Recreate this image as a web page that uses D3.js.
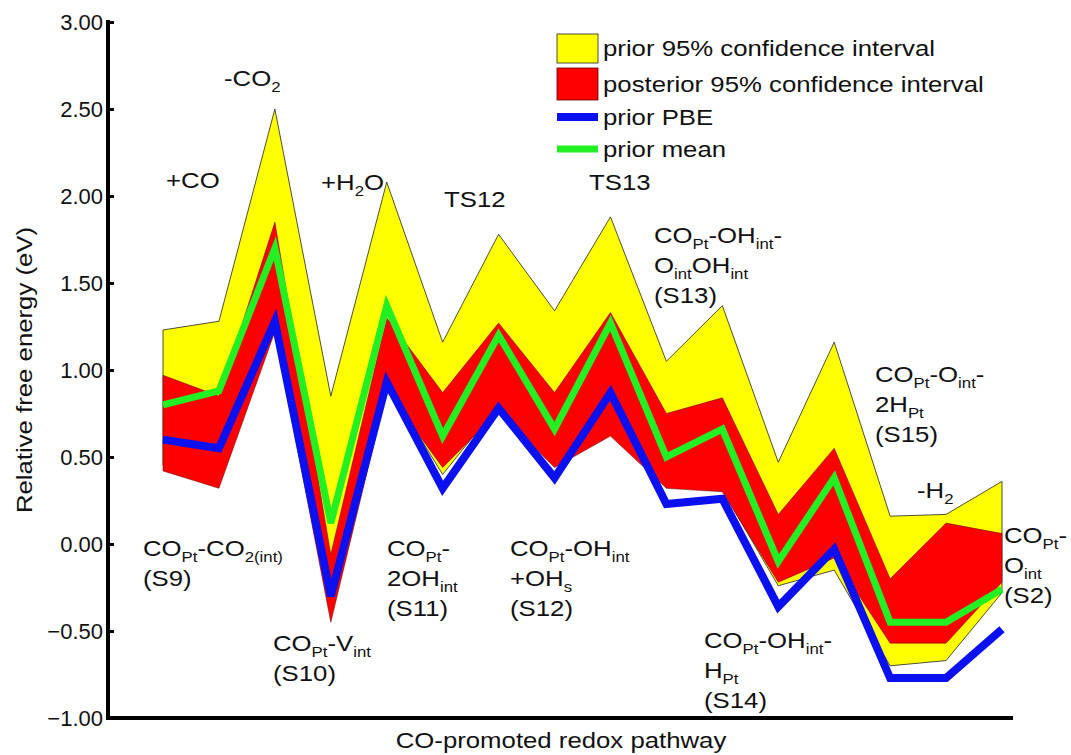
<!DOCTYPE html>
<html>
<head>
<meta charset="utf-8">
<script src="https://cdn.jsdelivr.net/npm/d3@7"></script>
<style>
  html, body { margin: 0; padding: 0; background: #fff; }
  svg { display: block; }
  text { font-family: "Liberation Sans", Arial, sans-serif; fill: #111; }
</style>
</head>
<body>
<svg id="chart" width="1071" height="755"></svg>
<script>
// Steps along the CO-promoted redox pathway (intermediates and transition states)
const steps = d3.range(16);

// Relative free energies (eV) at each step
const priorUpper     = [1.23, 1.28, 2.50,  0.85, 2.08, 1.16, 1.78, 1.34, 1.88, 1.05, 1.37,  0.47,  1.16,  0.16,  0.17,  0.36];
const priorLower     = [0.45, 0.38, 1.25, -0.30, 0.92, 0.40, 0.80, 0.46, 0.68, 0.33, 0.31, -0.24, -0.15, -0.70, -0.67, -0.28];
const posteriorUpper = [0.97, 0.85, 1.85, -0.06, 1.30, 0.87, 1.27, 0.87, 1.33, 0.75, 0.84,  0.17,  0.55, -0.20,  0.12,  0.06];
const posteriorLower = [0.42, 0.32, 1.22, -0.45, 0.88, 0.44, 0.76, 0.44, 0.62, 0.32, 0.30, -0.22, -0.08, -0.57, -0.57, -0.22];
const priorPBE       = [0.60, 0.55, 1.28, -0.30, 0.93, 0.32, 0.78, 0.38, 0.87, 0.23, 0.26, -0.36, -0.03, -0.77, -0.77, -0.49];
const priorMean      = [0.80, 0.88, 1.70,  0.12, 1.37, 0.62, 1.20, 0.66, 1.27, 0.50, 0.66, -0.10,  0.38, -0.45, -0.45, -0.26];

const yTicks = [-1.0, -0.5, 0.0, 0.5, 1.0, 1.5, 2.0, 2.5, 3.0];

const legendLabels = ["prior 95% confidence interval", "posterior 95% confidence interval", "prior PBE", "prior mean"];

// Step annotations: each line is a list of [text, isSubscript] pieces
const annotations = [
  { lines: [[["+CO", 0]]] },
  { lines: [[["-CO", 0], ["2", 1]]] },
  { lines: [[["+H", 0], ["2", 1], ["O", 0]]] },
  { lines: [[["TS12", 0]]] },
  { lines: [[["TS13", 0]]] },
  { lines: [[["CO", 0], ["Pt", 1], ["-OH", 0], ["int", 1], ["-", 0]], [["O", 0], ["int", 1], ["OH", 0], ["int", 1]], [["(S13)", 0]]] },
  { lines: [[["CO", 0], ["Pt", 1], ["-O", 0], ["int", 1], ["-", 0]], [["2H", 0], ["Pt", 1]], [["(S15)", 0]]] },
  { lines: [[["-H", 0], ["2", 1]]] },
  { lines: [[["CO", 0], ["Pt", 1], ["-", 0]], [["O", 0], ["int", 1]], [["(S2)", 0]]] },
  { lines: [[["CO", 0], ["Pt", 1], ["-CO", 0], ["2(int)", 1]], [["(S9)", 0]]] },
  { lines: [[["CO", 0], ["Pt", 1], ["-V", 0], ["int", 1]], [["(S10)", 0]]] },
  { lines: [[["CO", 0], ["Pt", 1], ["-", 0]], [["2OH", 0], ["int", 1]], [["(S11)", 0]]] },
  { lines: [[["CO", 0], ["Pt", 1], ["-OH", 0], ["int", 1]], [["+OH", 0], ["s", 1]], [["(S12)", 0]]] },
  { lines: [[["CO", 0], ["Pt", 1], ["-OH", 0], ["int", 1], ["-", 0]], [["H", 0], ["Pt", 1]], [["(S14)", 0]]] }
];
// Where each annotation block starts (left x, first baseline y)
const annotationLayout = [
  [166, 188], [224, 86], [321, 190], [444, 207], [589, 190],
  [654, 243], [875, 382], [917, 498], [1004, 543],
  [143, 556], [273, 651], [387, 556], [510, 556], [704, 648]
];

const FONT = 23;       // main label size
const SUB = 15;        // subscript size
const WIDEN = 1.12;    // horizontal widening of the lettering

const svg = d3.select("#chart");
const margin = { left: 108, top: 22, bottom: 718, right: 1013 };

const x = d3.scaleLinear().domain([0, 15]).range([163, 1002]);
const y = d3.scaleLinear().domain([-1, 3]).range([margin.bottom, margin.top]);

const band = (lo, hi) => d3.area()
  .x((d, i) => x(steps[i]))
  .y0((d, i) => y(lo[i]))
  .y1((d, i) => y(hi[i]));
const line = vals => d3.line()
  .x((d, i) => x(steps[i]))
  .y((d, i) => y(vals[i]));

// confidence bands
svg.append("path").datum(steps)
  .attr("d", band(priorLower, priorUpper))
  .attr("fill", "#ffff00").attr("stroke", "#222").attr("stroke-width", 0.8);
svg.append("path").datum(steps)
  .attr("d", band(posteriorLower, posteriorUpper))
  .attr("fill", "#ff0000").attr("stroke", "#5a0000").attr("stroke-width", 0.5);

// energy profiles
svg.append("path").datum(steps)
  .attr("d", line(priorPBE))
  .attr("fill", "none").attr("stroke", "#0a10f0").attr("stroke-width", 8)
  .attr("stroke-linejoin", "miter").attr("stroke-miterlimit", 4);
svg.append("path").datum(steps)
  .attr("d", line(priorMean))
  .attr("fill", "none").attr("stroke", "#22f022").attr("stroke-width", 7)
  .attr("stroke-linejoin", "miter").attr("stroke-miterlimit", 4);

// y axis
const yAxis = d3.axisLeft(y).tickValues(yTicks).tickFormat(d3.format(".2f")).tickSize(-6).tickPadding(5);
const gy = svg.append("g").attr("transform", `translate(${margin.left},0)`).call(yAxis);
gy.select(".domain").remove();
gy.selectAll(".tick line").attr("stroke", "#000").attr("stroke-width", 3);
gy.selectAll(".tick text").attr("font-size", 22).attr("fill", "#111")
  .attr("font-family", "Liberation Sans, Arial, sans-serif");

// axis frame lines
svg.append("path")
  .attr("d", `M${margin.left},${margin.top - 2}V${margin.bottom}H${margin.right}`)
  .attr("fill", "none").attr("stroke", "#000").attr("stroke-width", 4);

// text placed at (tx, ty), widened along its own direction
function label(tx, ty, rotate, anchor) {
  const g = svg.append("g")
    .attr("transform", `translate(${tx},${ty})${rotate ? " rotate(" + rotate + ")" : ""} scale(${WIDEN},1)`);
  return g.append("text").attr("x", 0).attr("y", 0)
    .attr("text-anchor", anchor || "start").attr("font-size", FONT);
}

// axis titles
label(32, (margin.top + margin.bottom) / 2, -90, "middle").text("Relative free energy (eV)");
label(561, 748, 0, "middle").text("CO-promoted redox pathway");

// step annotations
const lineGap = 30;
annotations.forEach((a, k) => {
  const [ax, ay] = annotationLayout[k];
  a.lines.forEach((parts, j) => {
    const t = label(ax, ay + j * lineGap, 0, "start");
    let drop = 0;
    parts.forEach(([txt, sub]) => {
      const target = sub ? 6 : 0;
      const ts = t.append("tspan").text(txt).attr("dy", target - drop);
      if (sub) ts.attr("font-size", SUB);
      drop = target;
    });
  });
});

// legend
const lx = 557, lw = 41;
svg.append("rect").attr("x", lx).attr("y", 34).attr("width", lw).attr("height", 29)
  .attr("fill", "#ffff00").attr("stroke", "#222").attr("stroke-width", 0.8);
svg.append("rect").attr("x", lx).attr("y", 68).attr("width", lw).attr("height", 32)
  .attr("fill", "#ff0000").attr("stroke", "#5a0000").attr("stroke-width", 0.8);
svg.append("line").attr("x1", lx).attr("x2", lx + lw).attr("y1", 117).attr("y2", 117)
  .attr("stroke", "#0a10f0").attr("stroke-width", 8);
svg.append("line").attr("x1", lx).attr("x2", lx + lw).attr("y1", 149).attr("y2", 149)
  .attr("stroke", "#22f022").attr("stroke-width", 7);
const legendY = [56, 92, 125, 157];
legendLabels.forEach((s, i) => {
  label(603, legendY[i], 0, "start").text(s);
});
</script>
</body>
</html>
